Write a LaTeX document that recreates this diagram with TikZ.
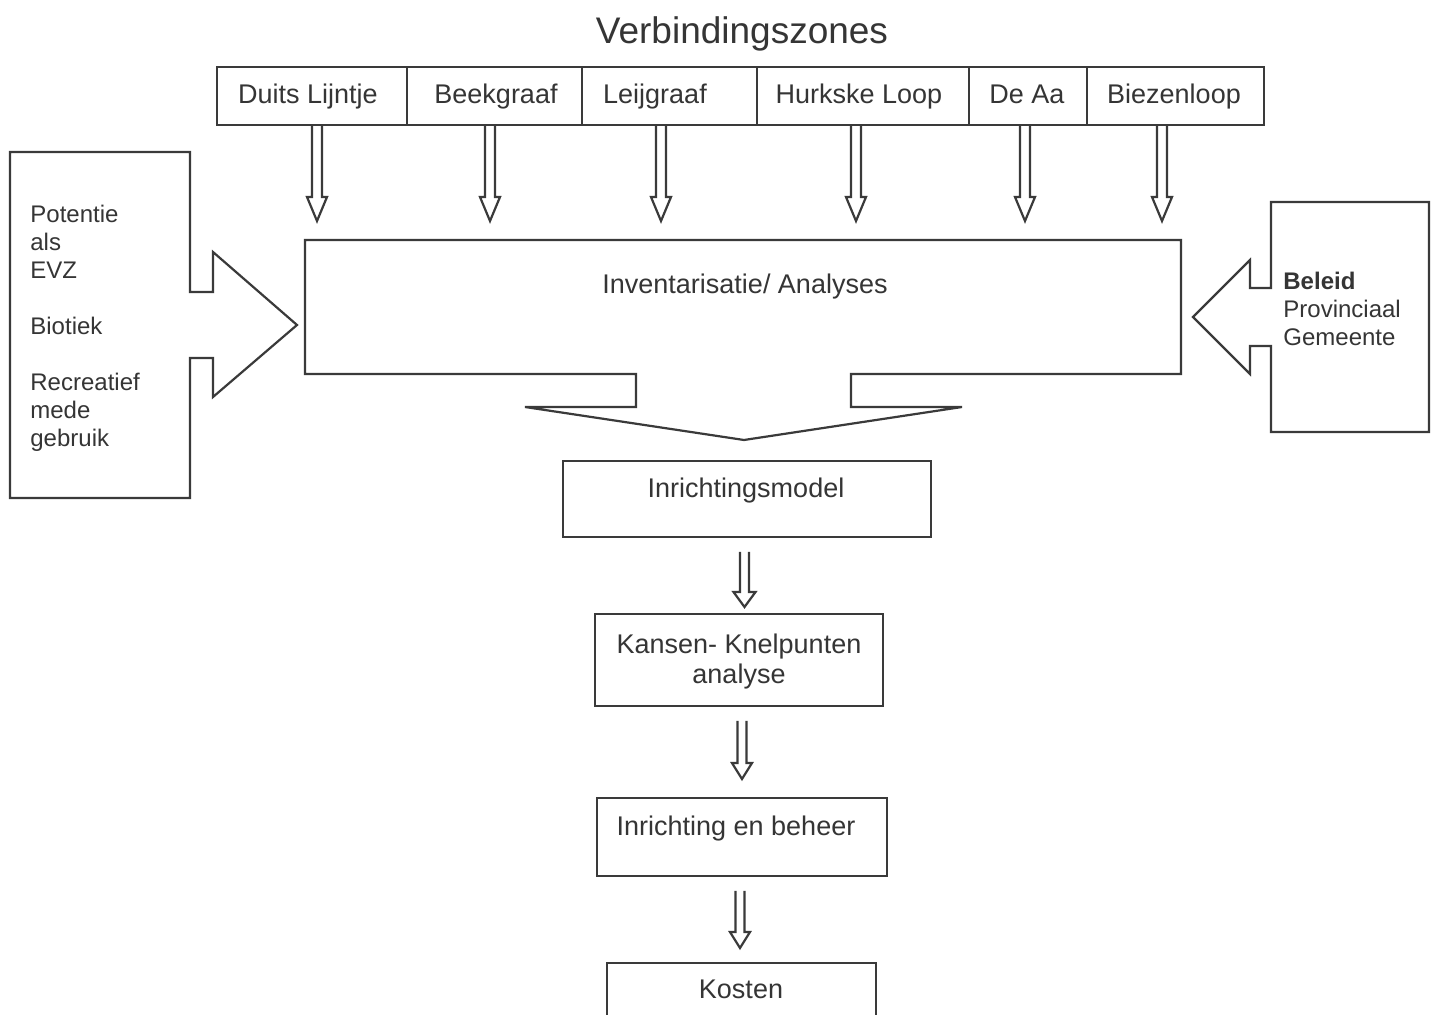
\documentclass[tikz,border=0pt]{standalone}
\usepackage{fontspec}
\setmainfont{Liberation Sans}
\usetikzlibrary{fit}
\definecolor{ink}{HTML}{3A3A3A}
\definecolor{txt}{HTML}{353535}
% hollow block arrow pointing down: #1 x, #2 top y, #3 tip y, #4 shaft half width, #5 head half width, #6 head length
\newcommand{\hollowdown}[6]{%
  \draw[outline] (#1-#4,#2) -- (#1-#4,#3-#6) -- (#1-#5,#3-#6) -- (#1,#3)
    -- (#1+#5,#3-#6) -- (#1+#4,#3-#6) -- (#1+#4,#2);}
\begin{document}
\begin{tikzpicture}[x=0.5pt,y=-0.5pt,
  outline/.style={draw=ink,line width=1.1pt,line join=miter},
  box/.style={draw=ink,line width=1.1pt,inner sep=0pt,fit={#1}},
  lbl/.style={text=txt,inner sep=0pt,anchor=base,font=\fontsize{13.5pt}{16pt}\selectfont},
  side/.style={text=txt,inner sep=0pt,anchor=north west,align=left,font=\fontsize{12pt}{14pt}\selectfont},
  title/.style={text=txt,inner sep=0pt,anchor=base,font=\fontsize{18.5pt}{22pt}\selectfont}]
\fill[white] (0,0) rectangle (1431,1015);
\clip (0,0) rectangle (1431,1015);

% title
\node[title] (title) at (742,44) {Verbindingszones};

% top row of zones
\node[box={(217,67) (407,125)}] (z1) {};
\node[box={(407,67) (582,125)}] (z2) {};
\node[box={(582,67) (757,125)}] (z3) {};
\node[box={(757,67) (969,125)}] (z4) {};
\node[box={(969,67) (1087,125)}] (z5) {};
\node[box={(1087,67) (1264,125)}] (z6) {};
\node[lbl] (t1) at (308,104) {Duits Lijntje};
\node[lbl] (t2) at (496,104) {Beekgraaf};
\node[lbl] (t3) at (655,104) {Leijgraaf};
\node[lbl] (t4) at (859,104) {Hurkske Loop};
\node[lbl] (t5) at (1027,104) {De Aa};
\node[lbl] (t6) at (1174,104) {Biezenloop};

% arrows from zones
\hollowdown{317}{125}{221}{5}{10}{24}
\hollowdown{490}{125}{221}{5}{10}{24}
\hollowdown{661}{125}{221}{5}{10}{24}
\hollowdown{856}{125}{221}{5}{10}{24}
\hollowdown{1025}{125}{221}{5}{10}{24}
\hollowdown{1162}{125}{221}{5}{10}{24}

% main analysis box with funnel
\draw[outline] (305,240) -- (1181,240) -- (1181,374) -- (851,374) -- (851,407)
  -- (962,407) -- (744,440) -- (525,407) -- (636,407) -- (636,374)
  -- (305,374) -- cycle;
\node[lbl] (inv) at (745,294) {Inventarisatie/ Analyses};

% left arrow box
\draw[outline] (10,152) -- (190,152) -- (190,292) -- (213,292) -- (213,252)
  -- (297,325) -- (213,397) -- (213,358) -- (190,358) -- (190,498)
  -- (10,498) -- cycle;
\node[side] (left) at (30,205) {Potentie\\als\\EVZ\\[14pt]Biotiek\\[14pt]Recreatief\\mede\\gebruik};

% right arrow box
\draw[outline] (1271,202) -- (1429,202) -- (1429,432) -- (1271,432) -- (1271,346)
  -- (1250,346) -- (1250,374) -- (1193,317) -- (1250,260) -- (1250,288)
  -- (1271,288) -- cycle;
\node[side] (right) at (1283,272) {\textbf{Beleid}\\Provinciaal\\Gemeente};

% lower chain
\node[box={(563,461) (931,537)}] (model) {};
\node[lbl] (tmodel) at (746,498) {Inrichtingsmodel};
\hollowdown{744.5}{552}{607}{4.5}{11}{15}

\node[box={(595,614) (883,706)}] (kansen) {};
\node[lbl,anchor=center,align=center,font=\fontsize{13.5pt}{15pt}\selectfont] (tkansen) at (739,662) {Kansen- Knelpunten\\analyse};
\hollowdown{742}{721}{779}{4.5}{10}{16}

\node[box={(597,798) (887,876)}] (beheer) {};
\node[lbl] (tbeheer) at (736,836) {Inrichting en beheer};
\hollowdown{740}{891}{948}{4.5}{10}{16}

\node[box={(607,963) (876,1030)}] (kosten) {};
\node[lbl] (tkosten) at (741,999) {Kosten};
\end{tikzpicture}
\end{document}
